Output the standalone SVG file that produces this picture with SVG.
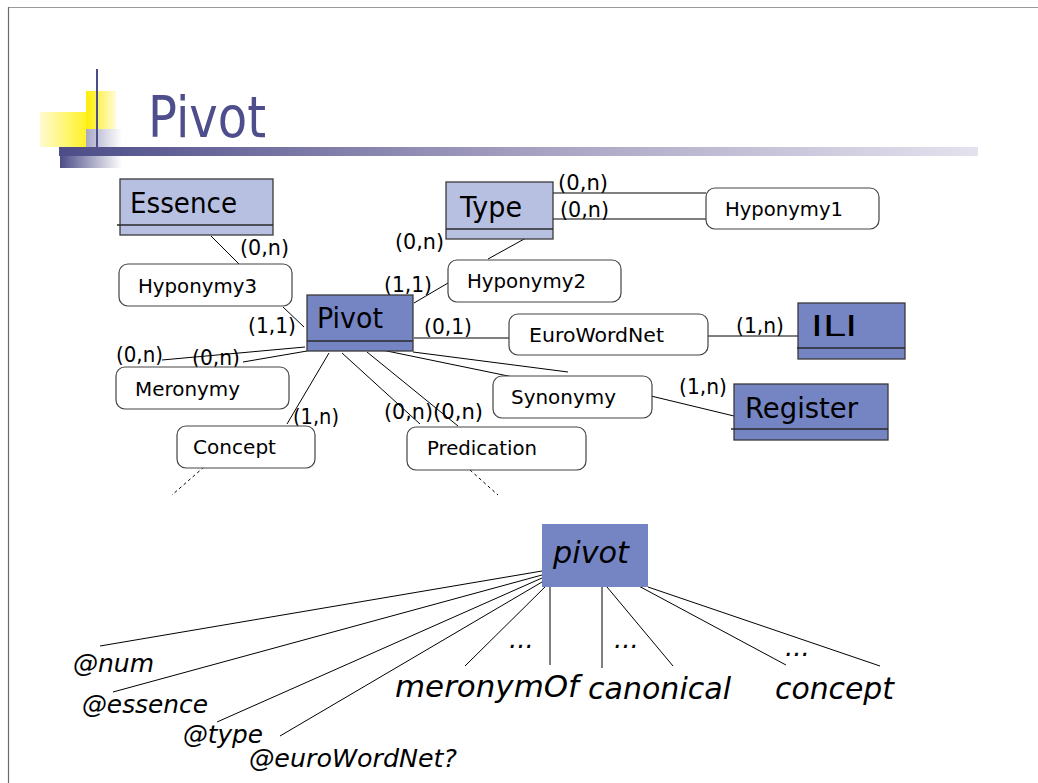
<svg xmlns="http://www.w3.org/2000/svg" width="1038" height="783" viewBox="0 0 1038 783">
  <defs>
    <linearGradient id="barGrad" x1="0" y1="0" x2="1" y2="0">
      <stop offset="0" stop-color="#4c4c88"/>
      <stop offset="0.5" stop-color="#a49fc0"/>
      <stop offset="1" stop-color="#e4e2ee"/>
    </linearGradient>
    <linearGradient id="subGrad" x1="0" y1="0" x2="1" y2="0">
      <stop offset="0" stop-color="#4c4c88"/>
      <stop offset="1" stop-color="#ffffff"/>
    </linearGradient>
    <linearGradient id="yelLow" x1="0" y1="0" x2="1" y2="0">
      <stop offset="0" stop-color="#fffbd0"/>
      <stop offset="1" stop-color="#fff000"/>
    </linearGradient>
    <linearGradient id="yelHigh" x1="0" y1="0" x2="1" y2="0">
      <stop offset="0" stop-color="#ffee00"/>
      <stop offset="1" stop-color="#fffbd8"/>
    </linearGradient>
    <linearGradient id="grayBox" x1="0" y1="0" x2="1" y2="0">
      <stop offset="0" stop-color="#a8a8c8"/>
      <stop offset="1" stop-color="#ffffff"/>
    </linearGradient>
  </defs>
  <style>
    .ent-light { fill: #b8c0e2; stroke: #3a3a3a; stroke-width: 1.3; }
    .ent-dark { fill: #7585c4; stroke: #3a3a3a; stroke-width: 1.3; }
    .sep { stroke: #2a2a2a; stroke-width: 1.3; }
    .rel { fill: #ffffff; stroke: #444444; stroke-width: 1.2; }
    .ent-text { font-family: "DejaVu Sans", sans-serif; font-size: 28px; fill: #000; }
    .rel-text { font-family: "DejaVu Sans", sans-serif; font-size: 19px; fill: #000; }
    .card { font-family: "DejaVu Sans", sans-serif; font-size: 22px; fill: #000; }
    .edge { stroke: #000; stroke-width: 1; fill: none; }
    .dash { stroke: #000; stroke-width: 1; stroke-dasharray: 3 3; fill: none; }
    .it { font-family: "DejaVu Sans", sans-serif; font-style: italic; fill: #000; }
  </style>

  <rect width="1038" height="783" fill="#ffffff"/>

  <!-- page frame -->
  <line x1="8" y1="7.5" x2="1038" y2="7.5" stroke="#9a9a9a" stroke-width="1.2"/>
  <line x1="8.5" y1="7" x2="8.5" y2="783" stroke="#6a6a6a" stroke-width="1.2"/>

  <!-- title decoration -->
  <g id="title">
    <rect x="40" y="112" width="57" height="35" fill="url(#yelLow)"/>
    <rect x="86" y="91" width="30" height="38" fill="url(#yelHigh)"/>
    <rect x="86" y="129" width="36" height="18" fill="url(#grayBox)"/>
    <rect x="59" y="147" width="919" height="9" fill="url(#barGrad)"/>
    <rect x="60" y="156" width="62" height="12" fill="url(#subGrad)"/>
    <line x1="97" y1="69" x2="97" y2="147" stroke="#4c4c88" stroke-width="2"/>
    <text x="148" y="137" font-family="DejaVu Sans, sans-serif" font-size="57" fill="#4e4e8c" textLength="118" lengthAdjust="spacingAndGlyphs">Pivot</text>
  </g>

  <!-- connectors of the ER schema -->
  <g id="connectors">
    <line class="edge" x1="211" y1="236" x2="239" y2="264"/>
    <line class="edge" x1="283" y1="307" x2="304" y2="327"/>
    <line class="edge" x1="414" y1="303" x2="448" y2="283"/>
    <line class="edge" x1="488" y1="259" x2="526" y2="238"/>
    <line class="edge" x1="553" y1="193" x2="706" y2="193"/>
    <line class="edge" x1="553" y1="219" x2="706" y2="219"/>
    <line class="edge" x1="414" y1="338" x2="509" y2="338"/>
    <line class="edge" x1="708" y1="336" x2="798" y2="336"/>
    <line class="edge" x1="651" y1="396" x2="734" y2="416"/>
    <line class="edge" x1="382" y1="350" x2="513" y2="377"/>
    <line class="edge" x1="413" y1="352" x2="568" y2="372"/>
    <line class="edge" x1="305" y1="347" x2="162" y2="360"/>
    <line class="edge" x1="307" y1="351" x2="243" y2="362"/>
    <line class="edge" x1="329" y1="353" x2="287" y2="424"/>
    <line class="edge" x1="342" y1="353" x2="420" y2="424"/>
    <line class="edge" x1="367" y1="352" x2="458" y2="426"/>
    <line class="dash" x1="204" y1="467" x2="172" y2="495"/>
    <line class="dash" x1="470" y1="470" x2="498" y2="495"/>

    <!-- cardinalities -->
    <text class="card" x="240" y="255" textLength="49" lengthAdjust="spacingAndGlyphs">(0,n)</text>
    <text class="card" x="248" y="333" textLength="48" lengthAdjust="spacingAndGlyphs">(1,1)</text>
    <text class="card" x="384" y="292" textLength="48" lengthAdjust="spacingAndGlyphs">(1,1)</text>
    <text class="card" x="395" y="249" textLength="49" lengthAdjust="spacingAndGlyphs">(0,n)</text>
    <text class="card" x="558" y="190" textLength="50" lengthAdjust="spacingAndGlyphs">(0,n)</text>
    <text class="card" x="560" y="217" textLength="49" lengthAdjust="spacingAndGlyphs">(0,n)</text>
    <text class="card" x="424" y="334" textLength="48" lengthAdjust="spacingAndGlyphs">(0,1)</text>
    <text class="card" x="736" y="333" textLength="48" lengthAdjust="spacingAndGlyphs">(1,n)</text>
    <text class="card" x="679" y="394" textLength="48" lengthAdjust="spacingAndGlyphs">(1,n)</text>
    <text class="card" x="116" y="362" textLength="47" lengthAdjust="spacingAndGlyphs">(0,n)</text>
    <text class="card" x="192" y="365" textLength="48" lengthAdjust="spacingAndGlyphs">(0,n)</text>
    <text class="card" x="293" y="424" textLength="46" lengthAdjust="spacingAndGlyphs">(1,n)</text>
    <text class="card" x="384" y="419" textLength="49" lengthAdjust="spacingAndGlyphs">(0,n)</text>
    <text class="card" x="433" y="419" textLength="50" lengthAdjust="spacingAndGlyphs">(0,n)</text>
  </g>

  <!-- entities -->
  <g id="essence">
    <rect class="ent-light" x="120" y="179" width="153" height="56"/>
    <line class="sep" x1="117" y1="225" x2="273" y2="225"/>
    <text class="ent-text" x="130" y="213" textLength="107" lengthAdjust="spacingAndGlyphs">Essence</text>
  </g>
  <g id="type">
    <rect class="ent-light" x="446" y="182" width="107" height="57"/>
    <line class="sep" x1="446" y1="229" x2="553" y2="229"/>
    <text class="ent-text" x="460" y="217" textLength="62" lengthAdjust="spacingAndGlyphs">Type</text>
  </g>
  <g id="pivot-entity">
    <rect class="ent-dark" x="307" y="295" width="106" height="56"/>
    <line class="sep" x1="307" y1="341" x2="413" y2="341"/>
    <text class="ent-text" x="317" y="328" textLength="66" lengthAdjust="spacingAndGlyphs">Pivot</text>
  </g>
  <g id="ili">
    <rect class="ent-dark" x="798" y="303" width="107" height="56"/>
    <line class="sep" x1="797" y1="348" x2="905" y2="348"/>
    <text class="ent-text" x="811" y="336" textLength="46" lengthAdjust="spacingAndGlyphs">ILI</text>
  </g>
  <g id="register">
    <rect class="ent-dark" x="734" y="384" width="154" height="56"/>
    <line class="sep" x1="731" y1="429" x2="888" y2="429"/>
    <text class="ent-text" x="745" y="418" textLength="113" lengthAdjust="spacingAndGlyphs">Register</text>
  </g>

  <!-- relationships -->
  <g id="hyponymy1">
    <rect class="rel" x="706" y="188" width="173" height="41" rx="9"/>
    <text class="rel-text" x="725" y="216" textLength="118" lengthAdjust="spacingAndGlyphs">Hyponymy1</text>
  </g>
  <g id="hyponymy2">
    <rect class="rel" x="448" y="260" width="173" height="42" rx="9"/>
    <text class="rel-text" x="467" y="288" textLength="119" lengthAdjust="spacingAndGlyphs">Hyponymy2</text>
  </g>
  <g id="hyponymy3">
    <rect class="rel" x="119" y="264" width="173" height="42" rx="9"/>
    <text class="rel-text" x="138" y="293" textLength="119" lengthAdjust="spacingAndGlyphs">Hyponymy3</text>
  </g>
  <g id="eurowordnet">
    <rect class="rel" x="509" y="314" width="199" height="41" rx="9"/>
    <text class="rel-text" x="529" y="342" textLength="135" lengthAdjust="spacingAndGlyphs">EuroWordNet</text>
  </g>
  <g id="meronymy">
    <rect class="rel" x="116" y="367" width="173" height="42" rx="9"/>
    <text class="rel-text" x="135" y="396" textLength="105" lengthAdjust="spacingAndGlyphs">Meronymy</text>
  </g>
  <g id="synonymy">
    <rect class="rel" x="493" y="376" width="159" height="42" rx="9"/>
    <text class="rel-text" x="511" y="404" textLength="105" lengthAdjust="spacingAndGlyphs">Synonymy</text>
  </g>
  <g id="concept">
    <rect class="rel" x="177" y="426" width="138" height="42" rx="9"/>
    <text class="rel-text" x="193" y="454" textLength="83" lengthAdjust="spacingAndGlyphs">Concept</text>
  </g>
  <g id="predication">
    <rect class="rel" x="407" y="427" width="179" height="43" rx="9"/>
    <text class="rel-text" x="427" y="455" textLength="110" lengthAdjust="spacingAndGlyphs">Predication</text>
  </g>

  <!-- element tree -->
  <g id="tree-edges">
    <line class="edge" x1="542" y1="571" x2="100" y2="646"/>
    <line class="edge" x1="542" y1="575" x2="113" y2="692"/>
    <line class="edge" x1="542" y1="578" x2="217" y2="722"/>
    <line class="edge" x1="542" y1="582" x2="280" y2="736"/>
    <line class="edge" x1="550" y1="582" x2="465" y2="666"/>
    <line class="edge" x1="550" y1="582" x2="550" y2="665"/>
    <line class="edge" x1="602" y1="581" x2="602" y2="668"/>
    <line class="edge" x1="602" y1="581" x2="673" y2="666"/>
    <line class="edge" x1="635" y1="584" x2="786" y2="665"/>
    <line class="edge" x1="648" y1="587" x2="880" y2="666"/>
  </g>
  <g id="pivot-element">
    <rect x="542" y="524" width="106" height="63" fill="#7585c4"/>
    <text class="it" x="553" y="563" font-size="30" textLength="76" lengthAdjust="spacingAndGlyphs">pivot</text>
  </g>
  <g id="tree-labels">
    <text class="it" x="73" y="672" font-size="24" textLength="81" lengthAdjust="spacingAndGlyphs">@num</text>
    <text class="it" x="82" y="713" font-size="24" textLength="126" lengthAdjust="spacingAndGlyphs">@essence</text>
    <text class="it" x="183" y="743" font-size="24" textLength="80" lengthAdjust="spacingAndGlyphs">@type</text>
    <text class="it" x="249" y="767" font-size="24" textLength="208" lengthAdjust="spacingAndGlyphs">@euroWordNet?</text>
    <text class="it" x="395" y="697" font-size="30" textLength="184" lengthAdjust="spacingAndGlyphs">meronymOf</text>
    <text class="it" x="588" y="699" font-size="30" textLength="143" lengthAdjust="spacingAndGlyphs">canonical</text>
    <text class="it" x="775" y="699" font-size="30" textLength="119" lengthAdjust="spacingAndGlyphs">concept</text>
    <text class="it" x="509" y="648" font-size="26">...</text>
    <text class="it" x="614" y="648" font-size="26">...</text>
    <text class="it" x="785" y="656" font-size="26">...</text>
  </g>
</svg>
